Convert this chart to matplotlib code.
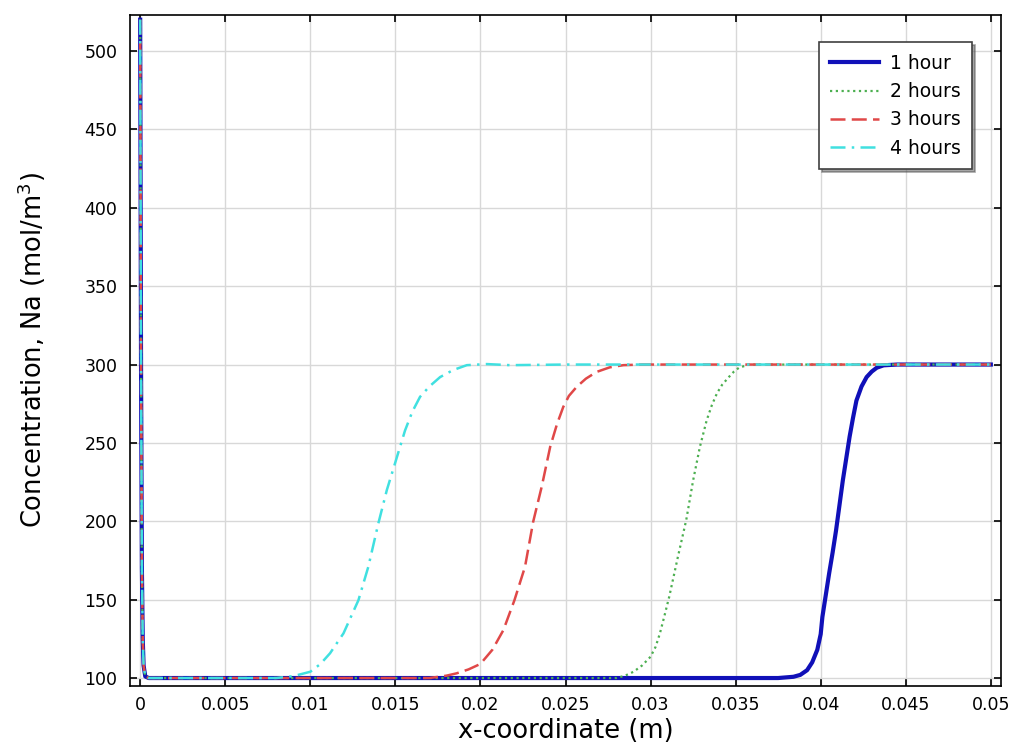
import matplotlib.pyplot as plt
import numpy as np

# shared near-wall spike at x = 0 (all four curves)
spike_x = [0.0, 0.00002, 0.00005, 0.0001, 0.00015, 0.0002, 0.0003, 0.0005]
spike_y = [520, 430, 300, 170, 125, 108, 101, 100]

# 1 hour
x1 = [0.005, 0.01, 0.02, 0.03, 0.0375, 0.0384, 0.0388, 0.0392, 0.0395, 0.0398, 0.0400,
      0.0401, 0.0403, 0.0405, 0.0407, 0.0409, 0.0411, 0.0413, 0.0415, 0.0417, 0.0419,
      0.0421, 0.0424, 0.0427, 0.0430, 0.0433, 0.0437, 0.0445, 0.05]
y1 = [100, 100, 100, 100, 100, 100.8, 102, 105, 110, 118, 128,
      139, 153, 167, 180, 194, 210, 226, 240, 254, 266,
      277, 286, 292, 295.5, 298, 299.5, 300, 300]

# 2 hours
x2 = [0.005, 0.01, 0.02, 0.028, 0.0285, 0.0290, 0.0295, 0.0300, 0.0303, 0.03055, 0.0308,
      0.0311, 0.0316, 0.0321, 0.0325, 0.0329, 0.0333, 0.0336, 0.0339, 0.0342, 0.0346,
      0.0349, 0.0352, 0.0358, 0.04, 0.05]
y2 = [100, 100, 100, 100, 101.5, 104, 108, 113.6, 120, 128.5, 139,
      152, 177, 201, 226, 247.5, 264.5, 274, 281.6, 287, 292,
      295.5, 298, 300, 300, 300]

# 3 hours
x3 = [0.005, 0.01, 0.017, 0.0180, 0.0186, 0.0193, 0.0200, 0.0207, 0.02135, 0.0220, 0.02262,
      0.0231, 0.0236, 0.0241, 0.0245, 0.02487, 0.0252, 0.02566, 0.0262, 0.02683, 0.0276,
      0.0284, 0.0295, 0.035, 0.05]
y3 = [100, 100, 100, 101.5, 103, 105.5, 109, 118, 130.6, 149.7, 171,
      199.7, 222, 247.5, 262, 273, 280, 285.8, 291, 295.3, 298.2,
      299.6, 300, 300, 300]

# 4 hours
x4 = [0.005, 0.008, 0.0090, 0.0100, 0.0106, 0.01116, 0.01195, 0.01283, 0.01341, 0.0140,
      0.0145, 0.01498, 0.01557, 0.0160, 0.01645, 0.0170, 0.01763, 0.0184, 0.0192, 0.02037,
      0.02174, 0.025, 0.05]
y4 = [100, 100, 101.2, 104, 109, 115.8, 128.5, 149.7, 171, 198.7,
      220, 237, 258, 270, 279.4, 286, 292, 296.5, 299.6, 300.3,
      299.6, 300, 300]

labels = ["1 hour", "2 hours", "3 hours", "4 hours"]
xticks = np.arange(0, 0.0501, 0.005)
xtick_labels = ["0", "0.005", "0.01", "0.015", "0.02", "0.025", "0.03", "0.035", "0.04", "0.045", "0.05"]
yticks = np.arange(100, 501, 50)
ytick_labels = [str(v) for v in yticks]

fig = plt.figure(figsize=(10.17, 7.46), dpi=100)
ax = fig.add_axes([0.1278, 0.0804, 0.8565, 0.8995])

ax.plot(spike_x + x1, spike_y + y1, color="#1010b8", linestyle="-", linewidth=3.0, label=labels[0])
ax.plot(spike_x + x2, spike_y + y2, color="#4caf50", linestyle=(0, (1, 1.6)), linewidth=1.6, label=labels[1])
ax.plot(spike_x + x3, spike_y + y3, color="#e04848", linestyle=(0, (6, 2.5)), linewidth=1.8, label=labels[2])
ax.plot(spike_x + x4, spike_y + y4, color="#40e0e0", linestyle=(0, (6, 2.5, 1, 2.5)), linewidth=1.8, label=labels[3])

ax.set_xlim(-0.0006, 0.0506)
ax.set_ylim(94.9, 523)
ax.set_xticks(xticks)
ax.set_xticklabels(xtick_labels, fontsize=12.5)
ax.set_yticks(yticks)
ax.set_yticklabels(ytick_labels, fontsize=12.5)
ax.tick_params(axis="both", direction="in", top=True, right=True, length=5, width=1.2)
ax.tick_params(axis="x", pad=7)
ax.tick_params(axis="y", pad=9)
ax.grid(color="#d8d8d8", linewidth=1)
ax.set_axisbelow(True)
for sp in ax.spines.values():
    sp.set_linewidth(1.2)

ax.set_xlabel("x-coordinate (m)", fontsize=18.5, labelpad=3)
ax.set_ylabel(r"Concentration, Na (mol/m$^{3}$)", fontsize=18.5, labelpad=26)

leg = ax.legend(loc="upper right", bbox_to_anchor=(0.978, 0.973), prop={"size": 13.5}, fancybox=False,
                shadow=True, framealpha=1, edgecolor="#404040", handlelength=2.6,
                borderpad=0.6, labelspacing=0.5, handletextpad=0.6)
leg.get_frame().set_linewidth(1.2)

fig.savefig("out.png", dpi=100)
